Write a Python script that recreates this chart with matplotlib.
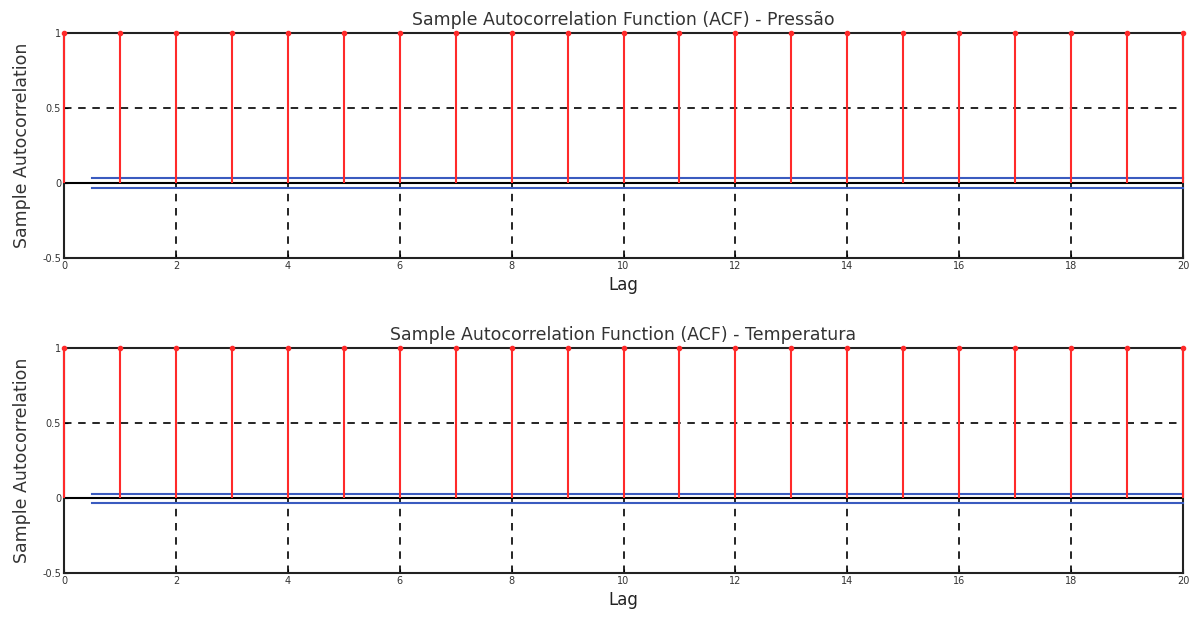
import matplotlib
matplotlib.use("Agg")
import matplotlib.pyplot as plt
import numpy as np

lags = list(range(0, 21))
acf_pressao = [1.0] * 21
acf_temperatura = [1.0] * 21
bound_pressao = 0.033
bound_temperatura = 0.03
titles = ["Sample Autocorrelation Function (ACF) - Pressão",
          "Sample Autocorrelation Function (ACF) - Temperatura"]
xticks = list(range(0, 21, 2))
yticks = [-0.5, 0, 0.5, 1]
ytick_labels = ["-0.5", "0", "0.5", "1"]

plt.rcParams['font.family'] = ['DejaVu Sans']

fig = plt.figure(figsize=(11.92, 6.18), dpi=100)
positions = [[0.0537, 0.5825, 0.9388, 0.364], [0.0537, 0.0728, 0.9388, 0.364]]

for pos, acf, bnd, title in zip(positions, [acf_pressao, acf_temperatura],
                                [bound_pressao, bound_temperatura], titles):
    ax = fig.add_axes(pos)
    ax.set_xlim(0, 20)
    ax.set_ylim(-0.5, 1)
    ax.set_xticks(xticks)
    ax.set_yticks(yticks)
    ax.set_yticklabels(ytick_labels)
    ax.grid(True, color='black', linestyle=(0, (4.5, 4)), linewidth=1.2)
    ax.set_axisbelow(True)
    ml, sl, bl = ax.stem(lags, acf, linefmt='-', markerfmt='o', basefmt='-')
    plt.setp(sl, color='#ff2a2a', linewidth=1.5, zorder=5, clip_on=False)
    plt.setp(ml, color='#ff2a2a', markersize=3, zorder=6, clip_on=False)
    plt.setp(bl, color='black', linewidth=1.5)
    ax.plot([0.5, 20], [bnd, bnd], color='#3a5bbf', linewidth=1.5, zorder=4, clip_on=False)
    ax.plot([0.5, 20], [-bnd, -bnd], color='#3a5bbf', linewidth=1.5, zorder=4, clip_on=False)
    for s in ax.spines.values():
        s.set_linewidth(1.5)
        s.set_color('#222222')
    ax.tick_params(direction='in', length=3, labelsize=7, pad=2, labelcolor='#333333')
    ax.set_title(title, fontsize=12.5, pad=6, color='#333333')
    ax.set_xlabel("Lag", fontsize=12, labelpad=4, color='#222222')
    ax.set_ylabel("Sample Autocorrelation", fontsize=12.5, labelpad=8, color='#333333')

fig.savefig("out.png", dpi=100)
